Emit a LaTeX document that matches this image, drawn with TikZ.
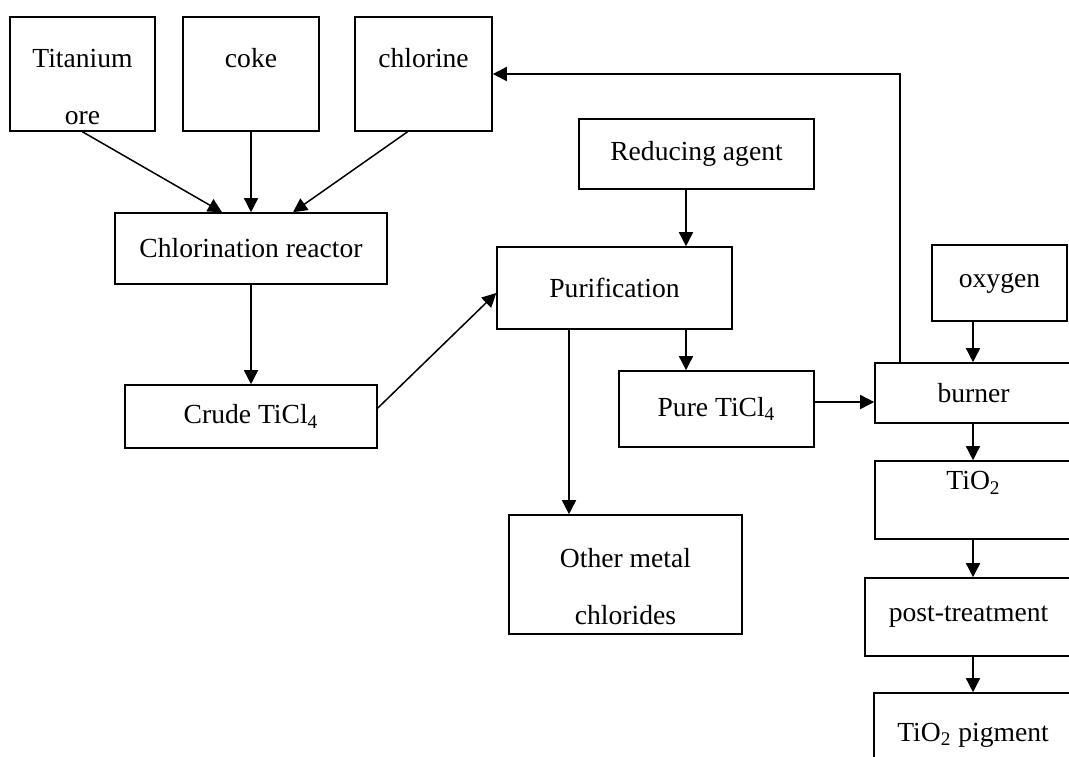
\documentclass[tikz,border=0pt]{standalone}
\usepackage{fontspec}
\setmainfont{Liberation Serif}
\usetikzlibrary{arrows.meta, positioning}

\begin{document}
\begin{tikzpicture}[x=0.5pt, y=-0.5pt, font=\fontsize{13.8}{16}\selectfont,
    box/.style={draw, line width=0.8pt, inner sep=0pt, text centered},
    flow/.style={-{Stealth[length=7pt, width=7pt, inset=0pt]}, line width=0.75pt}]
  \useasboundingbox (0,0) rectangle (1069,756);

  % raw materials
  \node[box, minimum width=72.5pt, minimum height=57pt,
        label={[name=ore-t, align=center, yshift=-6.25pt]center:Titanium\\[12.5pt]ore}] (ore) at (82.5,74) {};
  \node[box, minimum width=68pt, minimum height=57pt,
        label={[name=coke-t, yshift=8pt]center:coke}] (coke) at (251,74) {};
  \node[box, minimum width=68.5pt, minimum height=57pt,
        label={[name=chlorine-t, yshift=8pt]center:chlorine}] (chlorine) at (423.5,74) {};

  % chlorination and purification
  \node[box, minimum width=136pt, minimum height=35.5pt] (chlor) at (251,248.5) {Chlorination reactor};
  \node[box, minimum width=126pt, minimum height=31.5pt] (crude) at (251,416.5) {Crude TiCl\textsubscript{4}};
  \node[box, minimum width=117.5pt, minimum height=35pt] (reduce) at (696.5,154) {Reducing agent};
  \node[box, minimum width=117.5pt, minimum height=41pt] (purif) at (614.5,288) {Purification};
  \node[box, minimum width=97.5pt, minimum height=38pt] (pure) at (716.5,409) {Pure TiCl\textsubscript{4}};
  \node[box, minimum width=116.5pt, minimum height=59.5pt,
        label={[name=others-t, align=center, yshift=-6pt]center:Other metal\\[12.5pt]chlorides}] (others) at (625.5,574.5) {};

  % oxidation line
  \node[box, minimum width=67.5pt, minimum height=38pt] (oxygen) at (999.5,283) {oxygen};
  \node[box, minimum width=98.5pt, minimum height=30pt] (burner) at (973.5,393) {burner};
  \node[box, minimum width=98.5pt, minimum height=39pt,
        label={[name=tio2-t, yshift=8.5pt]center:TiO\textsubscript{2}}] (tio2) at (973.5,500) {};
  \node[box, minimum width=103.5pt, minimum height=39pt] (post) at (968.5,617) {post-treatment};
  \node[box, minimum width=99pt, minimum height=42pt] (pigment) at (973,735) {TiO\textsubscript{2} pigment};

  \coordinate (pdrop) at (686,0);
  \coordinate (odrop) at (569,0);
  \coordinate (rdrop) at (973,0);
  \coordinate (fback) at (900,0);
  \coordinate (hline) at (0,402);

  \draw[flow] (ore.south) -- ([xshift=-14.5pt]chlor.north);
  \draw[flow] (coke.south) -- (chlor.north);
  \draw[flow] ([xshift=-8pt]chlorine.south) -- ([xshift=21pt]chlor.north);
  \draw[flow] (chlor.south) -- (crude.north);
  \draw[flow] ([yshift=4.25pt]crude.east) -- ([yshift=-2.5pt]purif.west);
  \draw[flow] (reduce.south -| pdrop) -- (purif.north -| pdrop);
  \draw[flow] (purif.south -| pdrop) -- (pure.north -| pdrop);
  \draw[flow] (purif.south -| odrop) -- (others.north -| odrop);
  \draw[flow] (pure.east |- hline) -- (burner.west |- hline);
  \draw[flow] (oxygen.south -| rdrop) -- (burner.north -| rdrop);
  \draw[flow] (burner.south -| rdrop) -- (tio2.north -| rdrop);
  \draw[flow] (tio2.south -| rdrop) -- (post.north -| rdrop);
  \draw[flow] (post.south -| rdrop) -- (pigment.north -| rdrop);
  % chlorine recycle
  \draw[flow] (burner.north -| fback) |- (chlorine.east);
\end{tikzpicture}
\end{document}
